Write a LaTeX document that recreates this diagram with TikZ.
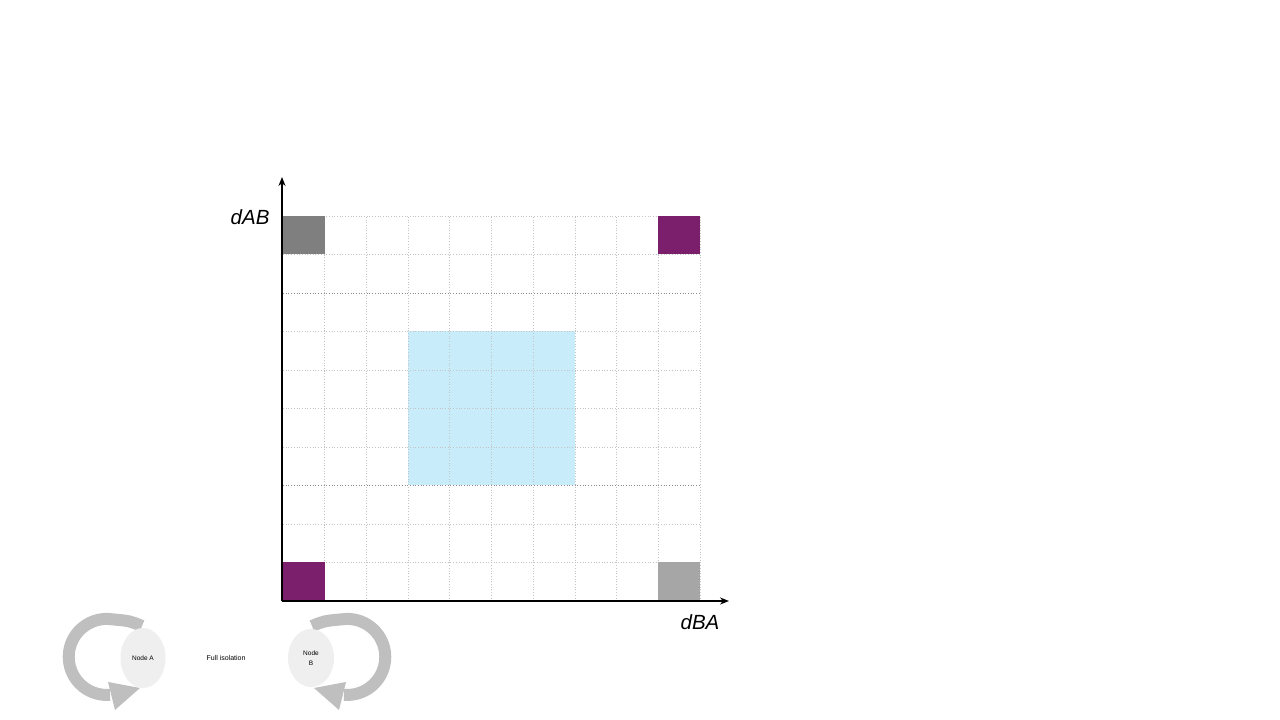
\documentclass[tikz,border=0pt]{standalone}
\usepackage{fontspec}
\setmainfont{Liberation Sans}
\usetikzlibrary{arrows.meta,shapes.geometric}
\definecolor{gridgray}{HTML}{C4C4C4}
\definecolor{griddark}{HTML}{8C8C8C}
\definecolor{cellblue}{HTML}{C9ECFB}
\definecolor{cellpurple}{HTML}{7B1F6D}
\definecolor{celldark}{HTML}{7F7F7F}
\definecolor{celllight}{HTML}{A6A6A6}
\definecolor{loopgray}{HTML}{BFBFBF}
\definecolor{nodefill}{HTML}{EFEFEF}
\tikzset{
  gridline/.style={gridgray, dotted, line width=0.7pt},
  gridstrong/.style={griddark, dotted, line width=0.7pt},
  axis/.style={black, line width=1.8pt, -{Stealth[length=9pt,width=7pt]}},
  axislabel/.style={font=\fontsize{20.5}{24}\selectfont\itshape},
  ellnode/.style={shape=ellipse, fill=nodefill, draw=none, inner sep=0pt, font=\fontsize{6.5}{8}\selectfont, align=center},
  loopband/.style={loopgray, line width=12pt},
  loophead/.style={fill=loopgray, draw=none},
}
\begin{document}
\begin{tikzpicture}[x=1pt,y=1pt]
\useasboundingbox (0,0) rectangle (1280,720);
\fill[white] (0,0) rectangle (1280,720);
% grid
\begin{scope}[shift={(283,119)}, x=41.7pt, y=38.5pt]
  \fill[cellblue] (3,3) rectangle (7,7);
  \foreach \i in {1,...,10} \draw[gridline] (\i,0) -- (\i,10);
  \foreach \j in {1,...,10} \draw[gridline] (0,\j) -- (10,\j);
  \draw[gridstrong] (0,3) -- (10,3);
  \draw[gridstrong] (0,8) -- (10,8);
  \fill[celldark] (0,9) rectangle (1,10);
  \fill[cellpurple] (9,9) rectangle (10,10);
  \fill[cellpurple] (0,0) rectangle (1,1);
  \fill[celllight] (9,0) rectangle (10,1);
  \coordinate (origin) at (-0.025,0);
\end{scope}
\coordinate (ytop) at (282,543);
\coordinate (xend) at (729,119);
\draw[axis] (origin) -- (ytop);
\draw[axis] (origin) -- (xend);
\node[axislabel, anchor=east] (dab) at (273,503) {dAB};
\node[axislabel] (dba) at (700,98) {dBA};
% loops
\draw[loopband] (142,94) .. controls (130,99) .. (112,100.7) arc[start angle=82, end angle=275, radius=38];
\fill[loophead] (108,38) -- (140,32) -- (115,10) -- cycle;
\draw[loopband] (312,94) .. controls (324,99) .. (342,100.7) arc[start angle=98, end angle=-95, radius=38];
\fill[loophead] (346,38) -- (314,32) -- (339,10) -- cycle;
\node[ellnode, minimum width=45pt, minimum height=60pt] (nodeA) at (143,62) {Node A};
\node[ellnode, minimum width=46pt, minimum height=58pt] (nodeB) at (311,62) {Node\\[2pt]B};
\node[font=\fontsize{7}{8}\selectfont] (iso) at (226,62) {Full isolation};
\end{tikzpicture}
\end{document}
